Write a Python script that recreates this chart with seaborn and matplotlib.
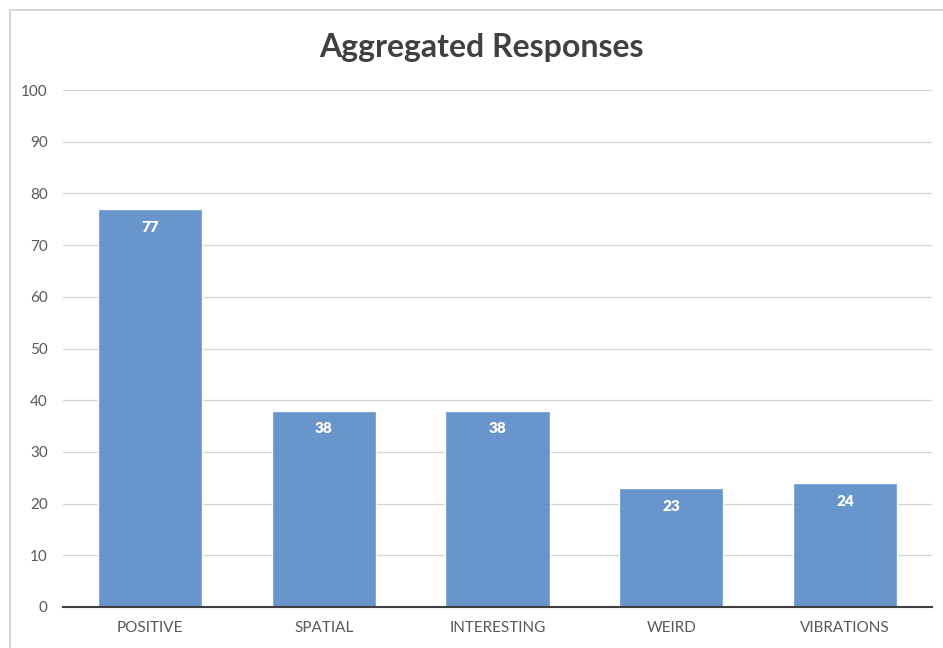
import matplotlib
matplotlib.use('Agg')
import matplotlib.pyplot as plt
import seaborn as sns
import pandas as pd
from matplotlib.patches import Rectangle

# Daten
categories = ['POSITIVE', 'SPATIAL', 'INTERESTING', 'WEIRD', 'VIBRATIONS']
counts = [77, 38, 38, 23, 24]

df = pd.DataFrame({'category': categories, 'count': counts})

sns.set_style('white')
plt.rcParams['font.family'] = ['Lato', 'DejaVu Sans']

fig = plt.figure(figsize=(9.43, 6.48), dpi=100)
ax = fig.add_axes([63/943, 1 - 607/648, 869/943, 517/648])

# Rahmen um das Diagramm
fig.patches.append(Rectangle((10/943, -0.1), 1.2, 1 - 10/648 + 0.1,
                             transform=fig.transFigure, fill=False,
                             edgecolor='#d0d0d0', linewidth=1.2, zorder=0))

ax.set_axisbelow(True)
ax.yaxis.grid(True, color='#d4d4d4', linewidth=0.9)

sns.barplot(data=df, x='category', y='count', color='#5b8dc8', alpha=0.93,
            width=0.6, saturation=1, ax=ax)

ax.set_ylim(0, 100)
ax.set_yticks(range(0, 101, 10))
ax.set_xlim(-0.5, 4.5)
for s in ['top', 'right', 'left']:
    ax.spines[s].set_visible(False)
ax.spines['bottom'].set_color('#404040')
ax.spines['bottom'].set_linewidth(1.5)
ax.spines['bottom'].set_zorder(4)
ax.tick_params(axis='both', length=0, labelsize=11, colors='#595959')
ax.tick_params(axis='y', pad=11)
ax.tick_params(axis='x', pad=10)
ax.set_xlabel('')
ax.set_ylabel('')

# Werte in die Balken schreiben
for i, v in enumerate(counts):
    ax.text(i, v - 3.5, str(v), ha='center', va='center', color='white',
            fontsize=11, fontweight='heavy', zorder=5)

fig.text(481/943, 1 - 47/648, 'Aggregated Responses', ha='center', va='center',
         fontsize=23, fontweight='bold', color='#404040')

fig.savefig('out.png', dpi=100)
